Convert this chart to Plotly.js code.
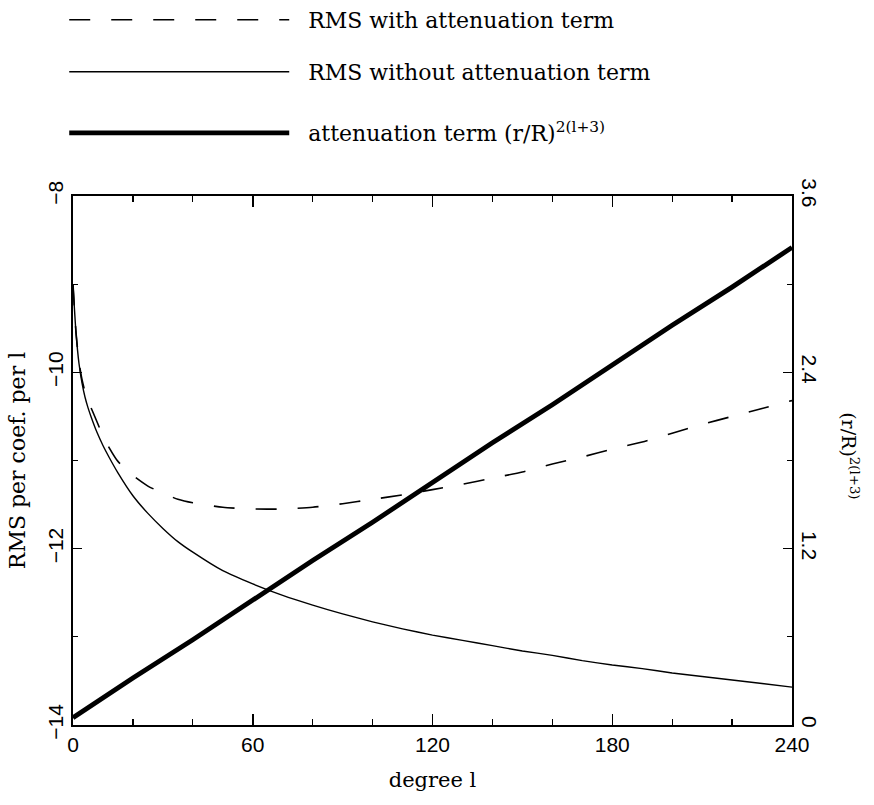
<!DOCTYPE html>
<html>
<head>
<meta charset="utf-8">
<script src="https://cdn.plot.ly/plotly-3.0.1.min.js"></script>
<style>
  html, body { margin: 0; padding: 0; background: #fff; }
  #chart { width: 874px; height: 805px; }
</style>
</head>
<body>
<div id="chart"></div>
<script>
// Spherical harmonic degree l
const degree = [0, 1, 2, 3, 4, 5, 6, 8, 10, 12, 15, 20, 25, 30, 35, 40, 50, 60, 70, 80, 90,
                100, 110, 120, 130, 140, 150, 160, 170, 180, 190, 200, 210, 220, 230, 240];

// RMS per coefficient per degree, with the attenuation term applied
const rmsWith = [-9.00, -9.55, -9.88, -10.08, -10.22, -10.32, -10.40, -10.56, -10.72, -10.85,
                 -11.01, -11.17, -11.29, -11.37, -11.44, -11.48, -11.53, -11.55, -11.55, -11.53,
                 -11.49, -11.44, -11.39, -11.33, -11.27, -11.20, -11.13, -11.04, -10.96, -10.87,
                 -10.79, -10.69, -10.59, -10.50, -10.41, -10.32];

// RMS per coefficient per degree, without the attenuation term
const rmsWithout = [-9.00, -9.55, -9.90, -10.12, -10.28, -10.40, -10.50, -10.68, -10.83, -10.96,
                    -11.14, -11.40, -11.60, -11.77, -11.92, -12.04, -12.25, -12.40, -12.53, -12.64,
                    -12.74, -12.83, -12.91, -12.98, -13.04, -13.10, -13.16, -13.21, -13.27, -13.32,
                    -13.36, -13.41, -13.45, -13.49, -13.53, -13.57];

// Attenuation term (r/R)^{2(l+3)} on the right-hand axis
const attDegree = [0, 20, 40, 60, 80, 100, 120, 140, 160, 180, 200, 220, 240];
const attenuation = [0.05, 0.32, 0.58, 0.85, 1.12, 1.38, 1.65, 1.92, 2.18, 2.45, 2.72, 2.98, 3.25];

// Tick labels of the right-hand axis
const rightTickVals = [0, 1.2, 2.4, 3.6];
const rightTickText = ['0', '1.2', '2.4', '3.6'];

const serif = 'DejaVu Serif';
const sans = 'Liberation Sans, Arial, sans-serif';
const pad = '\u00A0\u00A0';

const traces = [
  {
    x: degree, y: rmsWith, type: 'scatter', mode: 'lines',
    name: pad + 'RMS with attenuation term', legend: 'legend',
    line: { color: '#000', width: 1.6, dash: '21px,21px', shape: 'spline', smoothing: 0.6 },
    yaxis: 'y'
  },
  {
    x: degree, y: rmsWithout, type: 'scatter', mode: 'lines',
    name: pad + 'RMS without attenuation term', legend: 'legend2',
    line: { color: '#000', width: 1.4, shape: 'spline', smoothing: 0.6 },
    yaxis: 'y'
  },
  {
    x: attDegree, y: attenuation, type: 'scatter', mode: 'lines',
    name: pad + 'attenuation term (r/R)<sup>2(l+3)</sup>', legend: 'legend3',
    line: { color: '#000', width: 4.8 },
    yaxis: 'y2'
  }
];

// One legend box per row so each row can be placed on its own
function legendRow(yPaper) {
  return {
    x: -0.0122, xanchor: 'left', y: yPaper, yanchor: 'middle',
    font: { family: serif, size: 22, color: '#000' },
    itemwidth: 220, bgcolor: 'rgba(0,0,0,0)'
  };
}

const axisCommon = {
  showgrid: false, zeroline: false,
  showline: true, linecolor: '#000', linewidth: 1.8,
  ticks: 'inside', tickcolor: '#000', tickwidth: 1.5,
  tickfont: { family: sans, size: 21, color: '#000' }
};

const layout = {
  width: 874, height: 805,
  margin: { l: 73, r: 82, t: 196, b: 80, autoexpand: false },
  paper_bgcolor: '#fff', plot_bgcolor: '#fff',
  showlegend: true,
  legend: legendRow(1.3327),
  legend2: legendRow(1.2344),
  legend3: legendRow(1.1191),
  xaxis: Object.assign({}, axisCommon, {
    range: [0, 240], tickmode: 'linear', tick0: 0, dtick: 60, ticklen: 11,
    minor: { dtick: 20, ticks: 'inside', ticklen: 6, tickcolor: '#000', tickwidth: 1.2 },
    mirror: 'ticks',
    title: { text: 'degree l', font: { family: serif, size: 21, color: '#000' }, standoff: 17 }
  }),
  yaxis: Object.assign({}, axisCommon, {
    range: [-14, -8], tickmode: 'linear', tick0: -14, dtick: 2, ticklen: 9,
    minor: { dtick: 1, ticks: 'inside', ticklen: 5, tickcolor: '#000', tickwidth: 1.2 },
    tickangle: -90, mirror: true,
    title: { text: 'RMS per coef. per l', font: { family: serif, size: 22, color: '#000' }, standoff: 12 }
  }),
  yaxis2: Object.assign({}, axisCommon, {
    range: [0, 3.6], tickmode: 'array', tickvals: rightTickVals, ticktext: rightTickText, ticklen: 9,
    minor: { dtick: 0.6, ticks: 'inside', ticklen: 5, tickcolor: '#000', tickwidth: 1.2 },
    tickangle: 90, overlaying: 'y', side: 'right'
  }),
  annotations: [
    {
      text: '(r/R)<sup>2(l+3)</sup>', xref: 'paper', yref: 'paper',
      x: 1.0, xshift: 58, y: 0.51, xanchor: 'center', yanchor: 'middle',
      textangle: 90, showarrow: false,
      font: { family: serif, size: 19, color: '#000' }
    }
  ]
};

Plotly.newPlot('chart', traces, layout, { displayModeBar: false, staticPlot: true });
</script>
</body>
</html>
